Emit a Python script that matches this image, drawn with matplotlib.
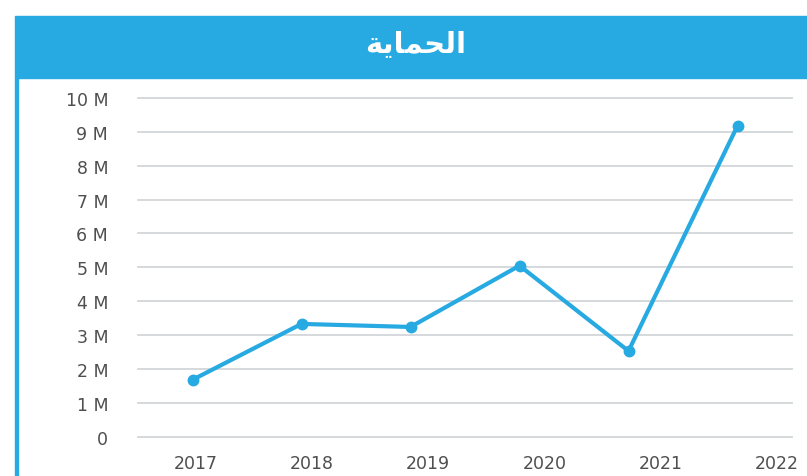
import numpy as np
import matplotlib
matplotlib.use("Agg")
import matplotlib.pyplot as plt
from matplotlib.patches import Rectangle
from matplotlib.ticker import FuncFormatter

plt.rcParams['font.family'] = ['DejaVu Sans']

# data (millions)
years = ["2017", "2018", "2019", "2020", "2021", "2022"]
values = [1.68, 3.33, 3.24, 5.05, 2.53, 9.18]
# title "الحماية" in shaped presentation forms, visual order
title = "\uFE94\uFEF3\uFE8E\uFEE4\uFEA4\uFEDF\uFE8D"

blue = "#27a9e1"
grey_txt = "#4f4f4f"

fig = plt.figure(figsize=(8.07, 4.77), dpi=100)
W, H = 807, 477

# banner + left frame line
fig.patches.append(Rectangle((14.5 / W, 1 - 79 / H), 1, 62.5 / H,
                             transform=fig.transFigure, color=blue, zorder=0))
fig.patches.append(Rectangle((14.5 / W, 0), 3.5 / W, 1 - 79 / H,
                             transform=fig.transFigure, color=blue, zorder=0))
fig.text(416 / W, 1 - 53 / H, title, color="white", fontsize=21,
         fontweight="bold", ha="center", va="baseline")

ax = fig.add_axes([138 / W, 1 - 437.7 / H, 654 / W, 338.7 / H])
x = np.arange(len(values))
ax.plot(x, values, color=blue, lw=3, marker="o", ms=7.5, clip_on=False, zorder=3)

ax.set_xlim(-0.5, 5.5)
ax.set_ylim(0, 10)
ax.set_yticks(range(0, 11))
ax.yaxis.set_major_formatter(FuncFormatter(lambda v, p: "0" if v == 0 else f"{int(v)} M"))
# labels sit slightly off the points in the original
ax.set_xticks([0.03 + 1.066 * i for i in range(len(years))])
ax.set_xticklabels(years)

ax.grid(axis="y", color="#d3d7d9", lw=1.3)
for gl in ax.get_ygridlines():
    gl.set_clip_on(False)
ax.set_axisbelow(True)
for s in ax.spines.values():
    s.set_visible(False)
ax.tick_params(axis="both", length=0, labelsize=12.5, labelcolor=grey_txt)
ax.tick_params(axis="y", pad=21.5)
ax.tick_params(axis="x", pad=12.5)

fig.savefig("out.png", dpi=100)
